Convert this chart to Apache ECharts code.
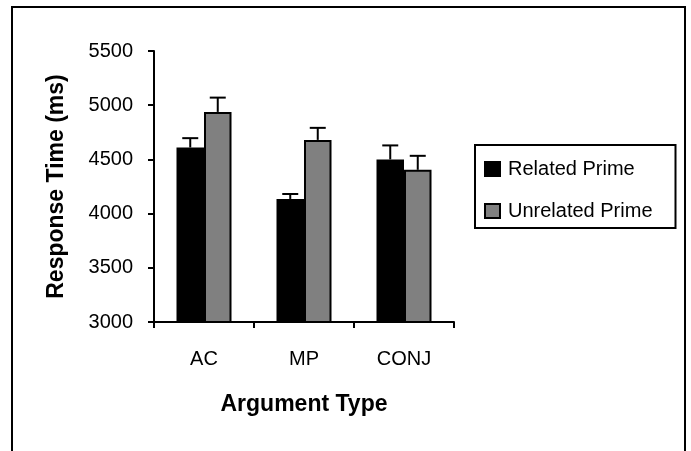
<!DOCTYPE html>
<html>
<head>
<meta charset="utf-8">
<script src="https://cdn.jsdelivr.net/npm/echarts@6/dist/echarts.min.js"></script>
<style>
  html, body { margin: 0; padding: 0; background: #fff; }
  #chart { width: 691px; height: 451px; }
</style>
</head>
<body>
<div id="chart"></div>
<script>
const categories = ['AC', 'MP', 'CONJ'];
const relatedMeans = [4610, 4135, 4500];
const unrelatedMeans = [4938, 4680, 4404];
// upper error (one side only, as in the original figure)
const relatedErr = [86, 46, 129];
const unrelatedErr = [132, 111, 129];
const yTicks = [3000, 3500, 4000, 4500, 5000, 5500];

const font = 'Liberation Sans, Arial, sans-serif';
const barGapPct = 45; // barCategoryGap in %

const chart = echarts.init(document.getElementById('chart'));

// error bar drawn over the bar, shift = -1 left bar, +1 right bar
const errorSeries = (name, means, errs, shift) => ({
  type: 'custom',
  name: name + ' err',
  z: 5,
  data: means.map((m, i) => [i, m, m + errs[i]]),
  renderItem: (params, api) => {
    const band = api.size([1, 0])[0];
    const barW = band * (1 - barGapPct / 100) / 2;
    const base = api.coord([api.value(0), api.value(1)]);
    const top = api.coord([api.value(0), api.value(2)]);
    const x = base[0] + shift * barW / 2;
    const style = { stroke: '#000', lineWidth: 2 };
    return {
      type: 'group',
      children: [
        { type: 'line', shape: { x1: x, y1: base[1], x2: x, y2: top[1] }, style },
        { type: 'line', shape: { x1: x - 8, y1: top[1], x2: x + 8, y2: top[1] }, style }
      ]
    };
  }
});

chart.setOption({
  animation: false,
  backgroundColor: '#fff',
  textStyle: { fontFamily: font, color: '#000' },
  graphic: [{
    type: 'rect',
    shape: { x: 12, y: 7, width: 673, height: 460 },
    style: { fill: 'none', stroke: '#000', lineWidth: 2 },
    silent: true
  }],
  grid: { left: 154, right: 237, top: 51, bottom: 129 },
  legend: {
    orient: 'vertical',
    left: 475, top: 145,
    padding: [14, 23, 7, 9],
    itemGap: 22,
    itemWidth: 15, itemHeight: 14,
    borderColor: '#000', borderWidth: 2,
    icon: 'rect',
    textStyle: { fontFamily: font, fontSize: 20, color: '#000', padding: [0, 0, 0, 3] },
    data: ['Related Prime', 'Unrelated Prime']
  },
  xAxis: {
    type: 'category',
    data: categories,
    name: 'Argument Type',
    nameLocation: 'middle',
    nameGap: 71,
    nameTextStyle: { fontFamily: font, fontSize: 23, fontWeight: 'bold', color: '#000' },
    axisLine: { lineStyle: { color: '#000', width: 2 } },
    axisTick: { show: true, length: 6, lineStyle: { color: '#000', width: 2 } },
    axisLabel: { margin: 27, fontSize: 20, color: '#000', lineHeight: 20 }
  },
  yAxis: {
    type: 'value',
    min: yTicks[0],
    max: yTicks[yTicks.length - 1],
    interval: yTicks[1] - yTicks[0],
    name: 'Response Time (ms)',
    nameLocation: 'middle',
    nameGap: 86,
    nameTextStyle: { fontFamily: font, fontSize: 23, fontWeight: 'bold', color: '#000' },
    axisLine: { show: true, lineStyle: { color: '#000', width: 2 } },
    axisTick: { show: true, length: 6, lineStyle: { color: '#000', width: 2 } },
    axisLabel: { margin: 21, fontSize: 20, color: '#000', formatter: (v) => String(v) },
    splitLine: { show: false }
  },
  series: [
    {
      name: 'Related Prime',
      type: 'bar',
      data: relatedMeans,
      barGap: '0%',
      barCategoryGap: barGapPct + '%',
      itemStyle: { color: '#000', borderColor: '#000', borderWidth: 2 }
    },
    {
      name: 'Unrelated Prime',
      type: 'bar',
      data: unrelatedMeans,
      barGap: '0%',
      barCategoryGap: barGapPct + '%',
      itemStyle: { color: '#808080', borderColor: '#000', borderWidth: 2 }
    },
    errorSeries('Related Prime', relatedMeans, relatedErr, -1),
    errorSeries('Unrelated Prime', unrelatedMeans, unrelatedErr, 1)
  ]
});
</script>
</body>
</html>
